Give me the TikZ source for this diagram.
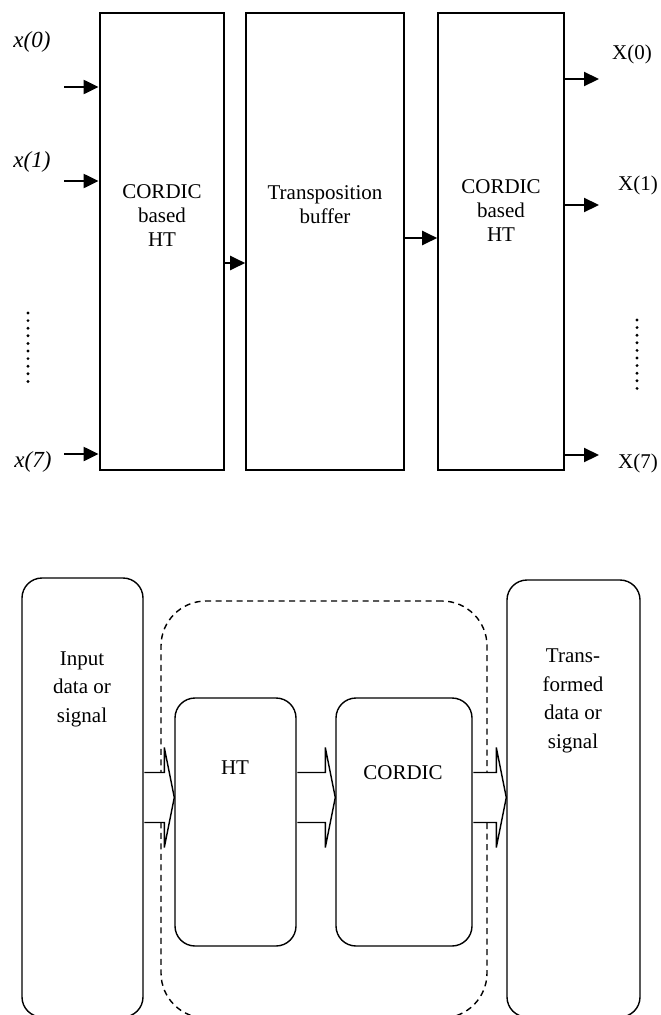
\documentclass[tikz,border=0pt]{standalone}
\usepackage{fontspec}
\setmainfont{Liberation Serif}
\usepackage{tikz}
\usetikzlibrary{calc, positioning, arrows.meta}

% mũi tên rỗng to
\newcommand{\fatarrow}[2]{%
  \draw[fatline] let \p1=(#1), \p2=(#2) in
    (\x1+0.7pt,\y1+25pt) -- (\x2-10pt,\y1+25pt) -- (\x2-10pt,\y1+50pt)
    -- (\x2,\y1) -- (\x2-10pt,\y1-50pt) -- (\x2-10pt,\y1-25pt) -- (\x1+0.7pt,\y1-25pt);}

\begin{document}
\begin{tikzpicture}[x=1pt, y=-1pt, >={Triangle[length=15pt,width=14pt]},
    block/.style={draw, line width=1.6pt, inner sep=0pt, minimum height=457pt},
    rblock/.style={draw, line width=1.4pt, rounded corners=20pt, inner sep=0pt},
    sig/.style={->, line width=2.2pt},
    txt/.style={align=center, font=\fontsize{21}{24}\selectfont},
    btxt/.style={align=center, font=\fontsize{21}{28.5}\selectfont},
    lbl/.style={font=\fontsize{21}{24}\selectfont},
    ilbl/.style={font=\fontsize{23}{26}\selectfont\itshape},
    vdots/.style={line width=3.2pt, line cap=round, dash pattern=on 0pt off 7.6pt},
    fatline/.style={line width=1.4pt, fill=white}]
    \clip (0,0) rectangle (661,1015);

    % Sơ đồ trên: ba khối
    \node[block, line width=2.8pt, minimum width=124pt] (ht1) at (162,241.5) {};
    \node[block, minimum width=158pt] (buf) at (325,241.5) {};
    \node[block, minimum width=126pt] (ht2) at (501,241.5) {};
    \node[txt] (ht1txt) at (162,216) {CORDIC\\based\\HT};
    \node[txt] (buftxt) at (325,205) {Transposition\\buffer};
    \node[txt] (ht2txt) at (501,211) {CORDIC\\based\\HT};

    % Đầu vào
    \foreach \n/\yy in {0/87, 1/181, 7/454} \coordinate (in\n) at (64,\yy);
    \foreach \n in {0,1,7} \draw[sig] (in\n) -- (in\n -| ht1.west);
    \node[ilbl] (x0) at (32,42) {x(0)};
    \node[ilbl] (x1) at (32,162) {x(1)};
    \node[ilbl] (x7) at (33,462) {x(7)};
    \coordinate (dl1) at (28,313);
    \coordinate (dl2) at (28,383);
    \draw[vdots] (dl1) -- (dl2);

    % Nối giữa các khối
    \draw[sig] ([yshift=-21.5pt]ht1.east) -- ([yshift=-21.5pt]buf.west);
    \draw[sig] ([yshift=3.5pt]buf.east) -- ([yshift=3.5pt]ht2.west);

    % Đầu ra
    \foreach \n/\yy in {0/79, 1/205, 7/455} \coordinate (out\n) at (599,\yy);
    \foreach \n in {0,1,7} \draw[sig] (out\n -| ht2.east) -- (out\n);
    \node[lbl] (X0) at (632,54) {X(0)};
    \node[lbl] (X1) at (638,185) {X(1)};
    \node[lbl] (X7) at (638,463) {X(7)};
    \coordinate (dr1) at (637,320);
    \coordinate (dr2) at (637,390);
    \draw[vdots] (dr1) -- (dr2);

    % Sơ đồ dưới
    \node[rblock, minimum width=121pt, minimum height=439pt] (inp) at (82.5,797.5) {};
    \node[rblock, minimum width=121pt, minimum height=248pt] (ht) at (235.5,822) {};
    \node[rblock, minimum width=136pt, minimum height=248pt] (cordic) at (404,822) {};
    \node[rblock, minimum width=133pt, minimum height=437pt] (res) at (573.5,798.5) {};
    \node[draw, line width=1.4pt, dash pattern=on 6pt off 4.5pt, rounded corners=45pt,
        inner sep=0pt, minimum width=326pt, minimum height=417pt] (core) at (324,809.5) {};
    \node[btxt] (inptxt) at (82,689) {Input\\data or\\signal};
    \node[btxt] (httxt) at (235,768) {HT};
    \node[btxt] (cordictxt) at (403,773) {CORDIC};
    \node[btxt] (restxt) at (573,701) {Trans-\\formed\\data or\\signal};

    % Mũi tên to
    \fatarrow{inp.east}{ht.west |- inp.east}
    \fatarrow{ht.east |- inp.east}{cordic.west |- inp.east}
    \fatarrow{cordic.east |- inp.east}{res.west |- inp.east}
\end{tikzpicture}
\end{document}
